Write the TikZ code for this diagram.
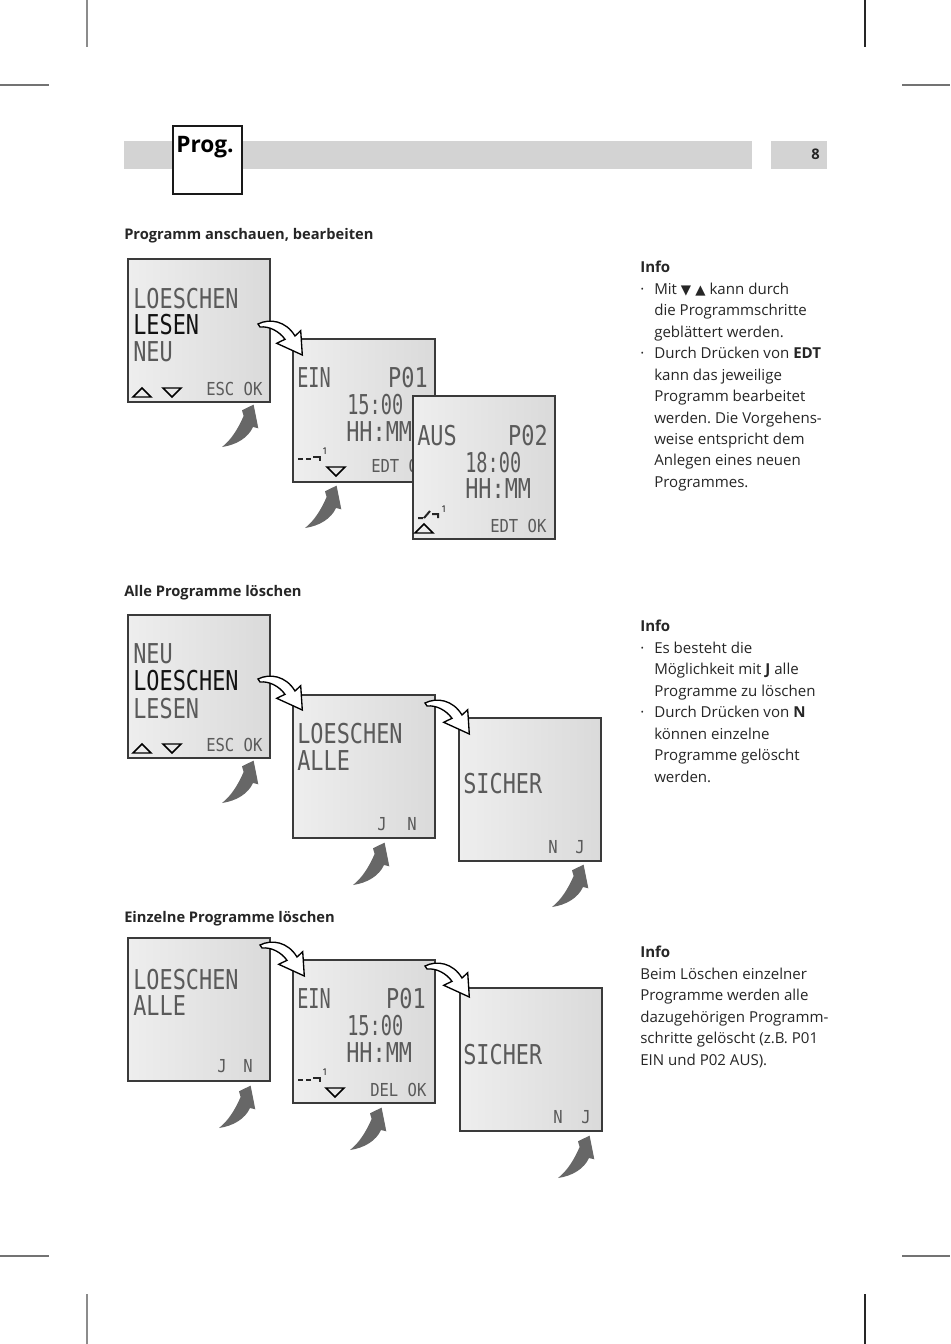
\documentclass[tikz,border=0pt]{standalone}
\usepackage{fontspec}
\setmainfont{Open Sans}
\frenchspacing
\newfontfamily\lcdw[FakeStretch=0.8]{DejaVu Sans Mono}
\newfontfamily\lcdn[FakeStretch=0.68]{DejaVu Sans Mono}
\newfontfamily\lcds[FakeStretch=0.87]{DejaVu Sans Mono}
\newfontfamily\symf{DejaVu Sans}
\definecolor{barcol}{HTML}{D3D3D3}
\definecolor{lcdL}{HTML}{EEEEEE}
\definecolor{lcdR}{HTML}{DADADA}
\definecolor{lcdborder}{HTML}{3A3A3A}
\definecolor{lcdtxt}{HTML}{5A5A5A}
\definecolor{lcdsel}{HTML}{121212}
\definecolor{garrowcol}{HTML}{676767}
\definecolor{txtcol}{HTML}{262626}
\newcommand\bul{\makebox[10.5pt][l]{·}}
\newcommand\ind{\hspace*{10.5pt}}
\newcommand\whitearr[1]{\draw[warrow, shift={(#1)}] (0,0) .. controls (12,-6) and (28,-3) .. (37,12) -- (42.7,6.7) -- (44.3,31) -- (18.7,19.3) -- (27,15.3) .. controls (21,7) and (11,2) .. (2,3) -- cycle;}
\newcommand\grayarr[1]{\fill[garrow, shift={(#1)}] (0,0) .. controls (14,-2) and (26,-9) .. (31,-20) -- (36.3,-18.7) -- (31.6,-42.4) -- (20,-36.7) -- (21.6,-31) .. controls (16,-18) and (9,-7) .. (0,0) -- cycle;}
\begin{document}
\begin{tikzpicture}[x=0.75pt,y=-0.75pt,
 lcd/.style={draw=lcdborder, line width=1.5pt, left color=lcdL, right color=lcdR, minimum width=106.5pt, minimum height=107.25pt, anchor=north west, inner sep=0pt, outer sep=0pt},
 big/.style={font=\lcdw\fontsize{20.5pt}{20.5pt}\selectfont, text=lcdtxt, inner sep=0pt, anchor=west},
 nar/.style={font=\lcdn\fontsize{20.5pt}{20.5pt}\selectfont, text=lcdtxt, inner sep=0pt, anchor=west},
 sml/.style={font=\lcds\fontsize{13.4pt}{13.4pt}\selectfont, text=lcdtxt, inner sep=0pt, anchor=west},
 sel/.style={text=lcdsel},
 tri/.style={draw=black, line width=1.1pt, line join=miter},
 sym/.style={draw=black!85, line width=1.5pt},
 one/.style={font=\fontsize{7pt}{7pt}\selectfont, inner sep=0pt, text=black},
 warrow/.style={fill=white, draw=black, line width=1pt, line join=miter},
 garrow/.style={fill=garrowcol},
 heading/.style={font=\bfseries\fontsize{11pt}{13pt}\selectfont, text=txtcol, inner sep=0pt, anchor=base west},
 info/.style={font=\fontsize{11.3pt}{16.1pt}\selectfont, text=txtcol, inner sep=0pt, anchor=north west, align=left},
 crop/.style={line width=0.9pt}
]
\useasboundingbox (0,0) rectangle (950,1344);
\fill[white] (0,0) rectangle (950,1344);
% crop marks
\draw[crop, black!45] (87,0) -- (87,47) (87,1294) -- (87,1344);
\draw[crop, black!85] (865,0) -- (865,47) (865,1294) -- (865,1344);
\draw[crop, black!55] (0,85) -- (49,85) (902,85) -- (950,85) (0,1256) -- (49,1256) (902,1256) -- (950,1256);
% header
\fill[barcol] (124,141) rectangle (752,169);
\fill[barcol] (771,141) rectangle (827,169);
\node[font=\bfseries\fontsize{11pt}{13pt}\selectfont, text=txtcol, inner sep=0pt, anchor=base east] (page) at (820,160) {8};
\draw[fill=white, draw=black!90, line width=1.9pt] (173,126) rectangle (242,194);
\node[font=\bfseries\fontsize{17pt}{18pt}\selectfont, text=black, inner sep=0pt, anchor=base west] (prog) at (176,153) {Prog.};
% headings
\node[heading] (h1) at (124,240) {Programm anschauen, bearbeiten};
\node[heading] (h2) at (124,596) {Alle Programme löschen};
\node[heading] (h3) at (124,922) {Einzelne Programme löschen};
% info blocks
\node[info] (i1) at (640,261) {\textbf{Info}\\
\bul Mit {\symf\fontsize{10pt}{10pt}\selectfont ▼ ▲} kann durch\\
\ind die Programmschritte\\
\ind geblättert werden.\\
\bul Durch Drücken von \textbf{EDT}\\
\ind kann das jeweilige\\
\ind Programm bearbeitet\\
\ind werden. Die Vorgehens-\\
\ind weise entspricht dem\\
\ind Anlegen eines neuen\\
\ind Programmes.};
\node[info] (i2) at (640,620) {\textbf{Info}\\
\bul Es besteht die\\
\ind Möglichkeit mit \textbf{J} alle\\
\ind Programme zu löschen\\
\bul Durch Drücken von \textbf{N}\\
\ind können einzelne\\
\ind Programme gelöscht\\
\ind werden.};
\node[info] (i3) at (640,946) {\textbf{Info}\\
Beim Löschen einzelner\\
Programme werden alle\\
dazugehörigen Programm-\\
schritte gelöscht (z.B. P01\\
EIN und P02 AUS).};
% ===== Row 1 =====
\node[lcd] (A) at (128,259) {};
\node[big] (a1) at (133,299) {LOESCHEN};
\node[big,sel] (a2) at (133,325) {LESEN};
\node[big] (a3) at (133,352) {NEU};
\draw[tri] (133,397) -- (151,397) -- (142,388) -- cycle;
\draw[tri] (163,388) -- (181,388) -- (172,397) -- cycle;
\node[sml] (a4) at (206,389) {ESC OK};
\node[lcd] (B) at (293,339) {};
\node[nar] (b1) at (297,378) {EIN};
\node[big,anchor=east] (b2) at (428,378) {P01};
\node[nar] (b3) at (347,405) {15:00};
\node[big] (b4) at (346,432) {HH:MM};
\draw[sym] (298,459) -- (303,459) (306,459) -- (311,459) (313,457) -- (320,457) -- (320,461);
\node[one] (b5) at (325,451) {1};
\draw[tri] (327,467) -- (345,467) -- (336,476) -- cycle;
\node[sml] (b6) at (371,466) {EDT OK};
\node[lcd] (C) at (413,396) {};
\node[big] (c1) at (417,436) {AUS};
\node[big,anchor=east] (c2) at (548,436) {P02};
\node[nar] (c3) at (465,463) {18:00};
\node[big] (c4) at (465,489) {HH:MM};
\draw[sym] (418,518) -- (423,518) (424,518) -- (430,511) (432,514) -- (438,514) -- (438,518);
\node[one] (c5) at (444,509) {1};
\draw[tri] (415,533) -- (433,533) -- (424,524) -- cycle;
\node[sml] (c6) at (490,526) {EDT OK};
\whitearr{258,324}
\grayarr{222,447}
\grayarr{305,528}
% ===== Row 2 =====
\node[lcd] (D) at (128,615) {};
\node[big] (d1) at (133,654) {NEU};
\node[big,sel] (d2) at (133,681) {LOESCHEN};
\node[big] (d3) at (133,709) {LESEN};
\draw[tri] (133,753) -- (151,753) -- (142,744) -- cycle;
\draw[tri] (163,744) -- (181,744) -- (172,753) -- cycle;
\node[sml] (d4) at (206,745) {ESC OK};
\node[lcd] (E) at (293,695) {};
\node[big] (e1) at (297,734) {LOESCHEN};
\node[big] (e2) at (297,761) {ALLE};
\node[sml] (e3) at (377,824) {J};
\node[sml] (e4) at (407,824) {N};
\node[lcd] (F) at (459,718) {};
\node[big] (f1) at (463,784) {SICHER};
\node[sml] (f2) at (548,847) {N};
\node[sml] (f3) at (575,847) {J};
\whitearr{258,679}
\whitearr{425,703}
\grayarr{222,803}
\grayarr{353,885}
\grayarr{552,907}
% ===== Row 3 =====
\node[lcd] (G) at (128,938) {};
\node[big] (g1) at (133,980) {LOESCHEN};
\node[big] (g2) at (133,1006) {ALLE};
\node[sml] (g3) at (217,1066) {J};
\node[sml] (g4) at (243,1066) {N};
\node[lcd] (H) at (293,960) {};
\node[nar] (k1) at (297,999) {EIN};
\node[big,anchor=east] (k2) at (426,999) {P01};
\node[nar] (k3) at (347,1026) {15:00};
\node[big] (k4) at (346,1053) {HH:MM};
\draw[sym] (298,1080) -- (303,1080) (306,1080) -- (311,1080) (313,1078) -- (320,1078) -- (320,1082);
\node[one] (k5) at (325,1072) {1};
\draw[tri] (326,1088) -- (344,1088) -- (335,1097) -- cycle;
\node[sml] (k6) at (370,1090) {DEL OK};
\node[lcd] (I) at (460,988) {};
\node[big] (m1) at (463,1055) {SICHER};
\node[sml] (m2) at (553,1117) {N};
\node[sml] (m3) at (581,1117) {J};
\whitearr{260,945}
\whitearr{425,966}
\grayarr{219,1128}
\grayarr{350,1150}
\grayarr{558,1178}
\end{tikzpicture}
\end{document}
